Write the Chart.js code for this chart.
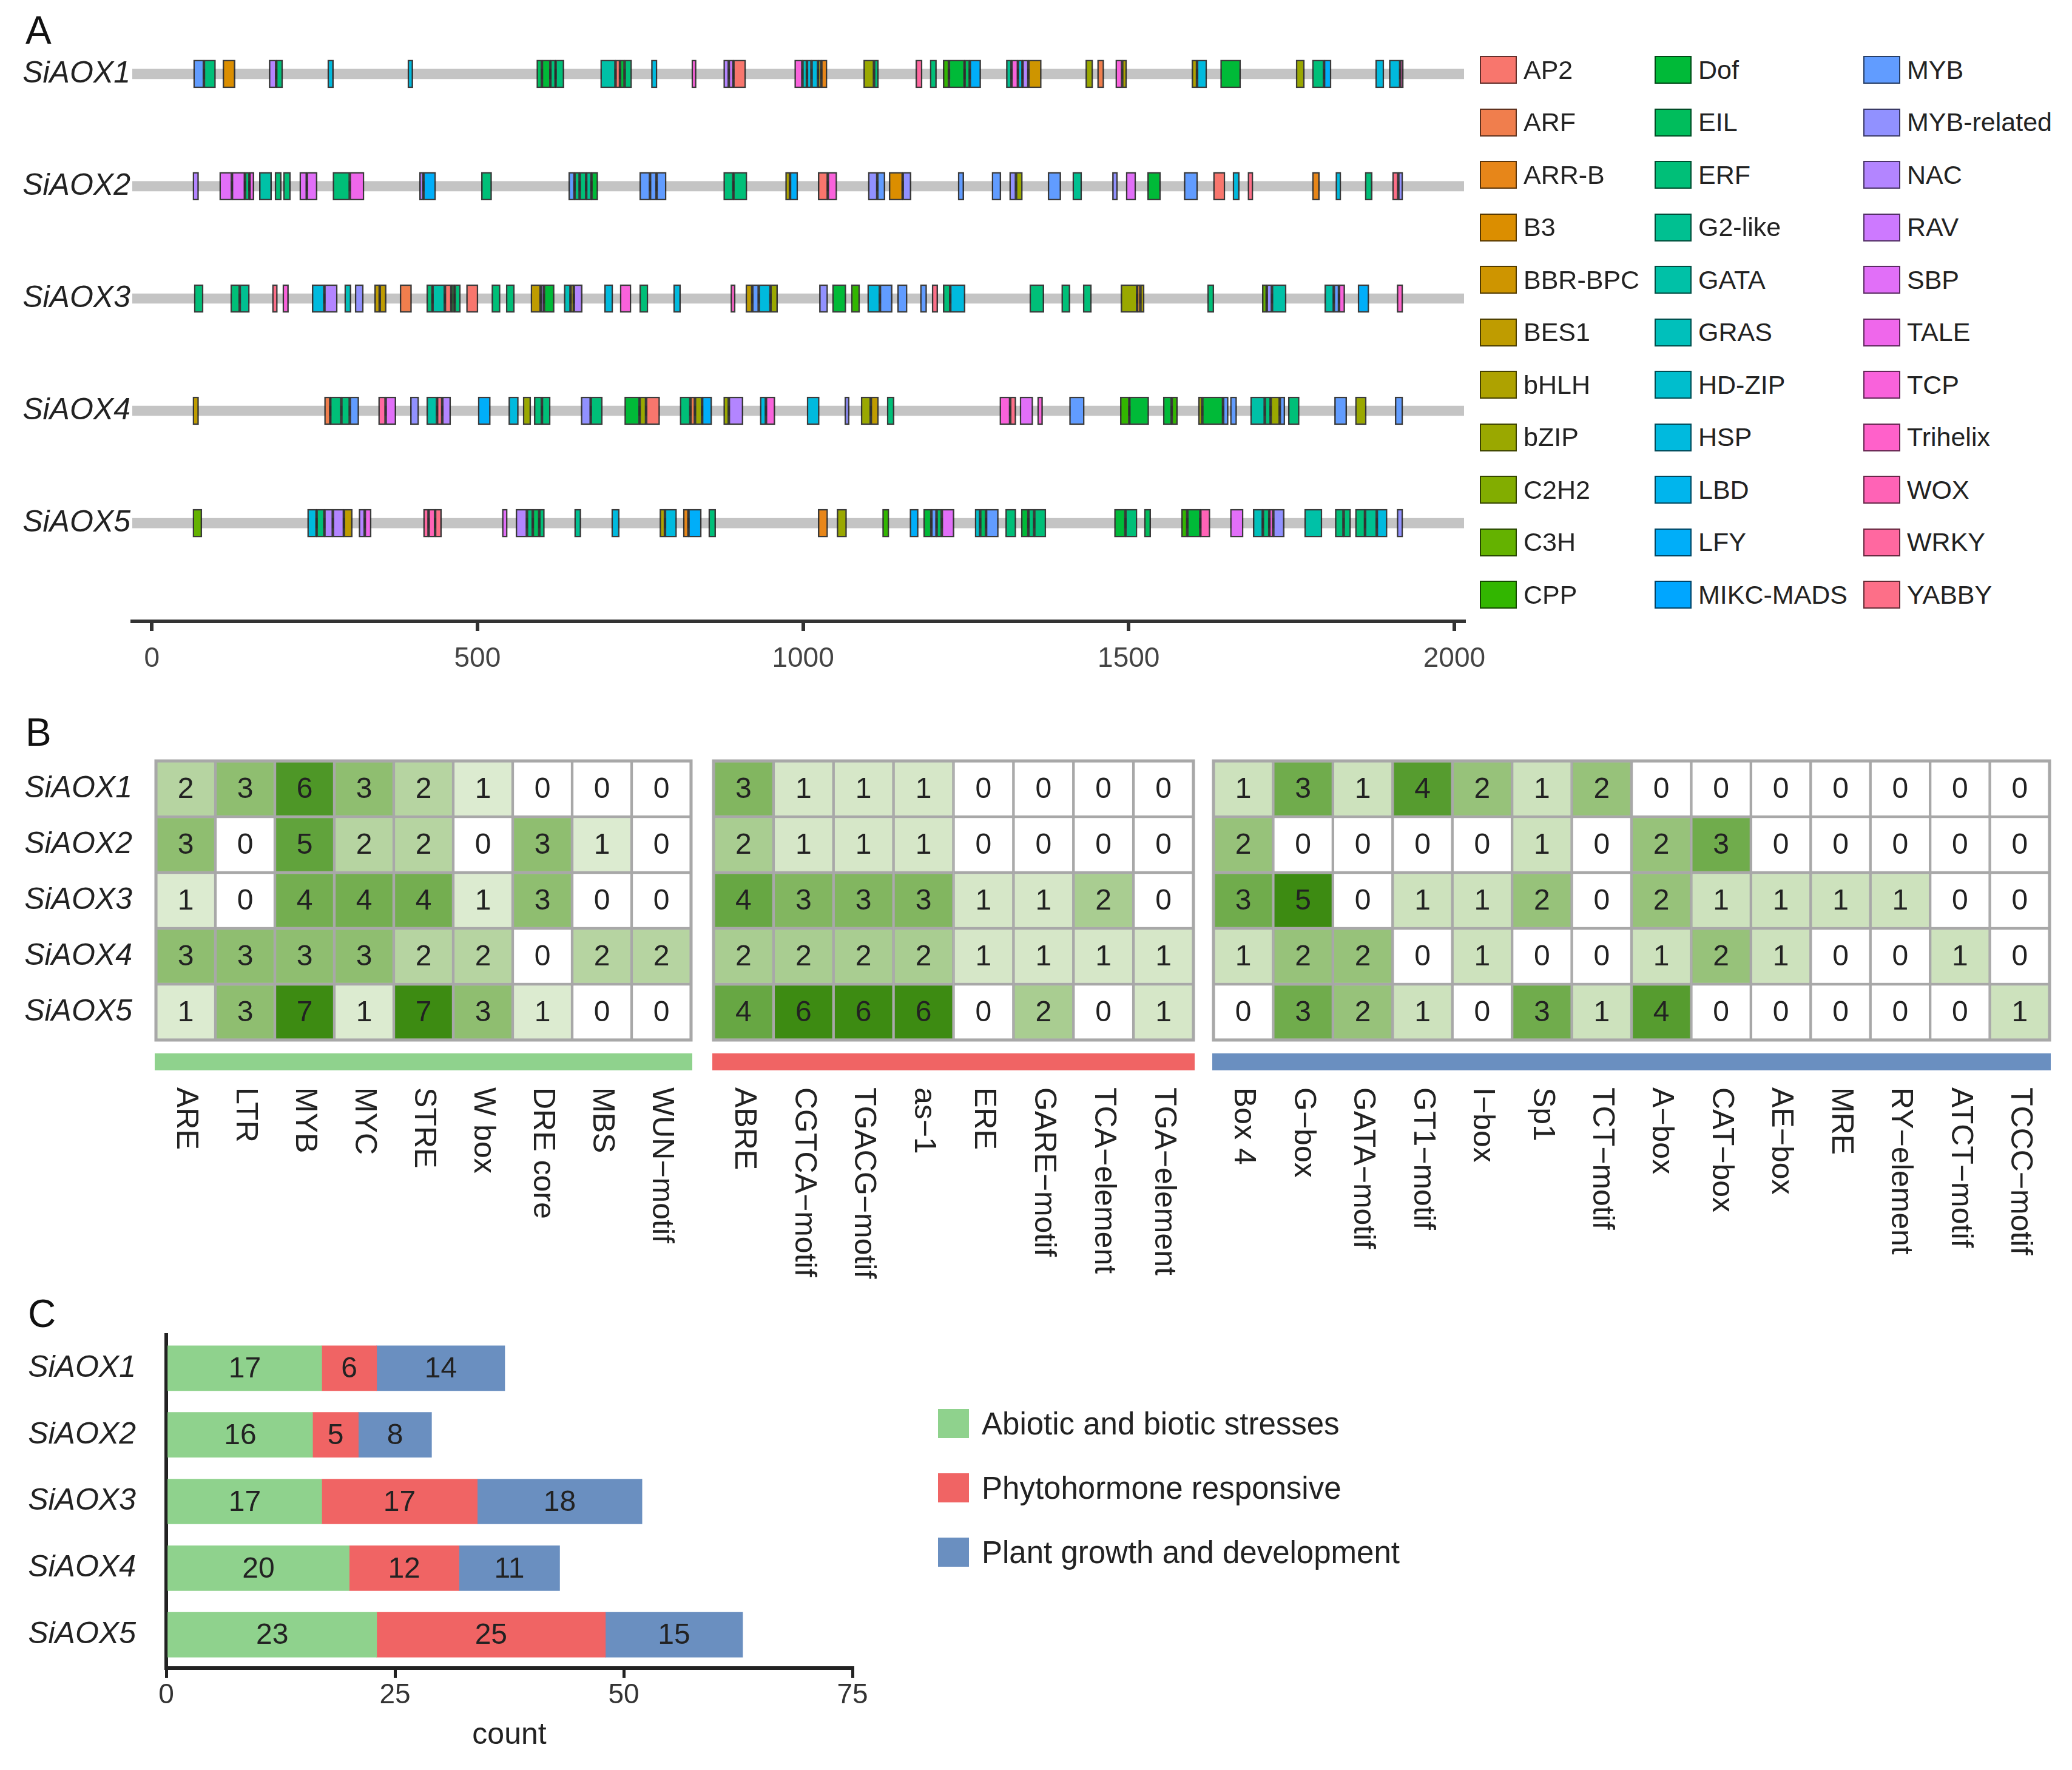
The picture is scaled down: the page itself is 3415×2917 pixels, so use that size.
<!DOCTYPE html>
<html>
<head>
<meta charset="utf-8">
<script src="https://cdn.jsdelivr.net/npm/chart.js@4.4.1/dist/chart.umd.min.js"></script>
<style>
  html, body { margin: 0; padding: 0; background: #fff; }
  #page { position: relative; width: 3415px; height: 2917px; overflow: hidden; background: #fff;
          font-family: "Liberation Sans", Arial, sans-serif; color: #222; }
  canvas { position: absolute; }
  .tag { position: absolute; font-size: 64px; line-height: 64px; color: #111; }
  .leg { position: absolute; display: flex; align-items: center; white-space: nowrap; color: #222; }
  .leg i { display: inline-block; box-sizing: border-box; border: 2px solid rgba(0,0,0,0.6); }
</style>
</head>
<body>
<div id="page">
  <div class="tag" style="left:42px;top:18px">A</div>
  <div class="tag" style="left:42px;top:1175px">B</div>
  <div class="tag" style="left:46px;top:2133px">C</div>
  <canvas id="chartA" width="2480" height="1140" style="left:0;top:0;width:2480px;height:1140px"></canvas>
  <canvas id="heat1" width="1160" height="940" style="left:0;top:1200px;width:1160px;height:940px"></canvas>
  <canvas id="heat2" width="840" height="940" style="left:1150px;top:1200px;width:840px;height:940px"></canvas>
  <canvas id="heat3" width="1420" height="940" style="left:1980px;top:1200px;width:1420px;height:940px"></canvas>
  <canvas id="chartC" width="1470" height="797" style="left:0;top:2120px;width:1470px;height:797px"></canvas>
  <div id="legA"></div>
  <div id="legC"></div>
</div>
<script>
// ---------- data ----------
const genes = ['SiAOX1', 'SiAOX2', 'SiAOX3', 'SiAOX4', 'SiAOX5'];

const families = ['AP2', 'ARF', 'ARR-B', 'B3', 'BBR-BPC', 'BES1', 'bHLH', 'bZIP', 'C2H2', 'C3H', 'CPP',
  'Dof', 'EIL', 'ERF', 'G2-like', 'GATA', 'GRAS', 'HD-ZIP', 'HSP', 'LBD', 'LFY', 'MIKC-MADS',
  'MYB', 'MYB-related', 'NAC', 'RAV', 'SBP', 'TALE', 'TCP', 'Trihelix', 'WOX', 'WRKY', 'YABBY'];

// binding sites: [start, end, family] in bp
const sitesAOX1 = [[64,80,'MYB'],[80,98,'ERF'],[109,128,'B3'],[180,191,'NAC'],[191,201,'ERF'],[270,279,'HSP'],[393,401,'HSP'],
  [591,599,'EIL'],[599,612,'Dof'],[612,620,'ERF'],[620,633,'ERF'],[689,712,'GATA'],[712,719,'AP2'],[719,726,'Dof'],[726,737,'ERF'],
  [767,776,'HSP'],[829,836,'TCP'],[878,886,'NAC'],[886,893,'RAV'],[893,912,'AP2'],
  [987,999,'TCP'],[999,1006,'GRAS'],[1006,1013,'HSP'],[1013,1023,'HSP'],[1023,1028,'bHLH'],[1028,1037,'ARR-B'],
  [1093,1109,'bZIP'],[1109,1116,'ERF'],[1173,1183,'WRKY'],[1195,1205,'ERF'],
  [1215,1224,'CPP'],[1224,1248,'Dof'],[1248,1256,'EIL'],[1256,1273,'LFY'],
  [1312,1320,'G2-like'],[1320,1330,'TCP'],[1330,1337,'HSP'],[1337,1346,'NAC'],[1346,1366,'BBR-BPC'],
  [1434,1445,'bZIP'],[1452,1462,'ARF'],[1480,1490,'TCP'],[1490,1497,'bHLH'],
  [1597,1605,'bHLH'],[1605,1620,'HSP'],[1641,1672,'Dof'],[1757,1770,'bZIP'],[1782,1800,'ERF'],[1800,1811,'LFY'],
  [1879,1892,'HSP'],[1900,1917,'HSP'],[1917,1922,'Trihelix']];
const sitesAOX2 = [[63,72,'NAC'],[104,123,'SBP'],[123,143,'SBP'],[143,150,'ERF'],[150,157,'TALE'],[165,184,'GATA'],[189,199,'ERF'],[202,213,'ERF'],
  [227,238,'SBP'],[238,254,'SBP'],[278,304,'ERF'],[304,326,'TALE'],[411,417,'NAC'],[417,436,'LFY'],[506,522,'ERF'],
  [640,649,'MYB'],[649,657,'ERF'],[657,667,'ERF'],[667,675,'G2-like'],[675,685,'Dof'],
  [749,765,'MYB'],[765,775,'MYB'],[775,790,'MYB'],[878,893,'ERF'],[893,914,'ERF'],[973,980,'bHLH'],[980,992,'LFY'],
  [1023,1038,'AP2'],[1038,1052,'TCP'],[1100,1114,'MYB-related'],[1114,1126,'MYB'],[1132,1153,'B3'],[1153,1166,'MYB-related'],
  [1238,1247,'MYB'],[1290,1304,'MYB'],[1317,1327,'MYB-related'],[1327,1337,'bZIP'],[1376,1396,'MYB'],[1414,1428,'G2-like'],
  [1475,1483,'MYB-related'],[1496,1511,'SBP'],[1529,1549,'Dof'],[1585,1606,'MYB'],[1630,1648,'AP2'],[1660,1670,'HSP'],[1683,1691,'YABBY'],
  [1782,1793,'ARR-B'],[1818,1826,'HSP'],[1863,1874,'ERF'],[1905,1914,'YABBY'],[1914,1921,'MYB-related']];
const sitesAOX3 = [[65,79,'ERF'],[121,135,'ERF'],[135,150,'G2-like'],[185,193,'YABBY'],[201,210,'TCP'],[246,265,'HSP'],[265,285,'NAC'],
  [296,306,'GRAS'],[312,325,'MYB-related'],[342,350,'BES1'],[350,360,'BES1'],[381,399,'ARF'],
  [422,431,'ERF'],[431,450,'GATA'],[450,460,'AP2'],[460,465,'Dof'],[465,474,'ERF'],[483,501,'AP2'],[522,535,'ERF'],[544,557,'ERF'],
  [582,597,'BES1'],[597,602,'NAC'],[602,618,'Dof'],[633,643,'GRAS'],[643,648,'bHLH'],[648,661,'NAC'],
  [695,708,'HSP'],[719,736,'TCP'],[749,762,'ERF'],[801,812,'HSP'],[889,896,'Trihelix'],
  [912,922,'BES1'],[922,932,'MYB'],[932,950,'HSP'],[950,961,'bZIP'],
  [1025,1038,'MYB-related'],[1045,1066,'Dof'],[1074,1087,'CPP'],[1099,1118,'HSP'],[1118,1137,'MYB'],[1145,1160,'MYB'],
  [1180,1190,'MYB'],[1198,1207,'YABBY'],[1215,1226,'ERF'],[1226,1249,'HSP'],
  [1348,1370,'ERF'],[1397,1410,'ERF'],[1430,1443,'ERF'],[1488,1513,'bZIP'],[1513,1518,'ARR-B'],[1518,1524,'bHLH'],
  [1621,1631,'ERF'],[1705,1712,'C3H'],[1712,1720,'MYB-related'],[1720,1742,'GATA'],
  [1801,1815,'GATA'],[1815,1823,'MYB'],[1823,1832,'TCP'],[1852,1869,'LFY'],[1912,1921,'Trihelix']];
const sitesAOX4 = [[63,72,'BES1'],[265,274,'ARF'],[274,291,'ERF'],[291,304,'ERF'],[304,318,'MYB'],[348,359,'WRKY'],[359,375,'SBP'],
  [397,410,'MYB-related'],[422,438,'GATA'],[438,446,'YABBY'],[446,459,'NAC'],[501,520,'LFY'],[548,563,'HSP'],[570,582,'bZIP'],
  [587,599,'ERF'],[599,612,'ERF'],[659,674,'MYB-related'],[674,692,'ERF'],
  [726,749,'Dof'],[749,759,'bZIP'],[759,780,'AP2'],[811,827,'ERF'],[827,834,'ARF'],[834,845,'bZIP'],[845,860,'LFY'],
  [878,886,'bZIP'],[886,908,'NAC'],[934,943,'HSP'],[943,957,'TCP'],
  [1006,1025,'HSP'],[1064,1071,'MYB-related'],[1089,1104,'bZIP'],[1104,1116,'BES1'],[1129,1140,'ERF'],
  [1302,1318,'TCP'],[1318,1327,'YABBY'],[1333,1353,'SBP'],[1360,1368,'TCP'],[1409,1432,'MYB'],
  [1487,1501,'CPP'],[1501,1531,'Dof'],[1553,1566,'Dof'],[1566,1575,'CPP'],
  [1607,1613,'bZIP'],[1613,1645,'Dof'],[1645,1653,'MYB'],[1656,1666,'MYB'],
  [1687,1709,'GATA'],[1709,1718,'ERF'],[1718,1732,'bZIP'],[1732,1740,'MYB'],[1745,1762,'ERF'],
  [1816,1835,'MYB'],[1848,1865,'bZIP'],[1909,1921,'MYB']];
const sitesAOX5 = [[63,77,'C3H'],[239,253,'HSP'],[253,265,'ERF'],[265,278,'NAC'],[278,295,'NAC'],[295,308,'BES1'],[318,327,'NAC'],[327,337,'TALE'],
  [417,425,'WRKY'],[425,435,'WOX'],[435,445,'YABBY'],[538,546,'SBP'],[559,576,'NAC'],[576,585,'ERF'],[585,595,'EIL'],[595,603,'ERF'],
  [649,659,'G2-like'],[706,718,'HSP'],[780,788,'bHLH'],[788,806,'HSP'],[816,824,'ARR-B'],[824,844,'LFY'],[855,866,'ERF'],
  [1023,1038,'ARR-B'],[1052,1067,'bZIP'],[1122,1132,'CPP'],[1164,1177,'LFY'],
  [1185,1197,'Dof'],[1197,1205,'MYB'],[1205,1213,'EIL'],[1213,1232,'SBP'],
  [1264,1272,'HD-ZIP'],[1272,1281,'EIL'],[1281,1300,'MYB'],[1311,1327,'ERF'],[1335,1346,'Dof'],[1346,1355,'ERF'],[1355,1373,'ERF'],
  [1478,1495,'Dof'],[1495,1513,'ERF'],[1524,1534,'EIL'],[1581,1590,'CPP'],[1590,1610,'Dof'],[1610,1625,'WOX'],
  [1656,1676,'SBP'],[1691,1706,'GRAS'],[1706,1716,'ERF'],[1716,1722,'TCP'],[1722,1739,'MYB-related'],
  [1770,1797,'GATA'],[1817,1830,'ERF'],[1830,1841,'ERF'],[1848,1863,'ERF'],[1863,1881,'G2-like'],[1881,1897,'HSP'],[1912,1921,'MYB-related']];
const geneSites = [sitesAOX1, sitesAOX2, sitesAOX3, sitesAOX4, sitesAOX5];
const trackSpan = [-30, 2015];
const ticksA = [0, 500, 1000, 1500, 2000];

const motifsStress = ['ARE', 'LTR', 'MYB', 'MYC', 'STRE', 'W box', 'DRE core', 'MBS', 'WUN\u2212motif'];
const heatStress = [
  [2, 3, 6, 3, 2, 1, 0, 0, 0],
  [3, 0, 5, 2, 2, 0, 3, 1, 0],
  [1, 0, 4, 4, 4, 1, 3, 0, 0],
  [3, 3, 3, 3, 2, 2, 0, 2, 2],
  [1, 3, 7, 1, 7, 3, 1, 0, 0]];
const motifsHormone = ['ABRE', 'CGTCA\u2212motif', 'TGACG\u2212motif', 'as\u22121', 'ERE', 'GARE\u2212motif', 'TCA\u2212element', 'TGA\u2212element'];
const heatHormone = [
  [3, 1, 1, 1, 0, 0, 0, 0],
  [2, 1, 1, 1, 0, 0, 0, 0],
  [4, 3, 3, 3, 1, 1, 2, 0],
  [2, 2, 2, 2, 1, 1, 1, 1],
  [4, 6, 6, 6, 0, 2, 0, 1]];
const motifsGrowth = ['Box 4', 'G\u2212box', 'GATA\u2212motif', 'GT1\u2212motif', 'I\u2212box', 'Sp1', 'TCT\u2212motif', 'A\u2212box',
  'CAT\u2212box', 'AE\u2212box', 'MRE', 'RY\u2212element', 'ATCT\u2212motif', 'TCCC\u2212motif'];
const heatGrowth = [
  [1, 3, 1, 4, 2, 1, 2, 0, 0, 0, 0, 0, 0, 0],
  [2, 0, 0, 0, 0, 1, 0, 2, 3, 0, 0, 0, 0, 0],
  [3, 5, 0, 1, 1, 2, 0, 2, 1, 1, 1, 1, 0, 0],
  [1, 2, 2, 0, 1, 0, 0, 1, 2, 1, 0, 0, 1, 0],
  [0, 3, 2, 1, 0, 3, 1, 4, 0, 0, 0, 0, 0, 1]];

const groups = ['Abiotic and biotic stresses', 'Phytohormone responsive', 'Plant growth and development'];
const countStress = [17, 16, 17, 20, 23];
const countHormone = [6, 5, 17, 12, 25];
const countGrowth = [14, 8, 18, 11, 15];
const ticksC = [0, 25, 50, 75];

// ---------- styles ----------
const FONT = '"Liberation Sans", Arial, sans-serif';
Chart.defaults.font.family = FONT;
const groupColors = ['#8FD28D', '#F06464', '#6A8FC0'];
const heatStops = ['#FFFFFF', '#DCEBD0', '#B6D4A1', '#8FBE70', '#74AE50', '#61A33C', '#4E9727', '#3D8B12'];

// ggplot-like hue palette
function hcl(h, c, l) {
  const WX = 95.047, WY = 100, WZ = 108.883;
  const un = 4 * WX / (WX + 15 * WY + 3 * WZ), vn = 9 * WY / (WX + 15 * WY + 3 * WZ);
  const hr = h * Math.PI / 180;
  const Y = WY * (l > 7.999592 ? Math.pow((l + 16) / 116, 3) : l / 903.3);
  const u = c * Math.cos(hr) / (13 * l) + un, v = c * Math.sin(hr) / (13 * l) + vn;
  const X = 9 * Y * u / (4 * v);
  const Z = -X / 3 - 5 * Y + 3 * Y / v;
  const lin = [3.240479 * X - 1.537150 * Y - 0.498535 * Z,
               -0.969256 * X + 1.875992 * Y + 0.041556 * Z,
               0.055648 * X - 0.204043 * Y + 1.057311 * Z].map(t => t / WY);
  return '#' + lin.map(t => {
    t = t > 0.00304 ? 1.055 * Math.pow(t, 1 / 2.4) - 0.055 : 12.92 * t;
    t = Math.min(1, Math.max(0, t));
    return Math.round(t * 255).toString(16).padStart(2, '0');
  }).join('');
}
const famColor = {};
families.forEach((f, i) => { famColor[f] = hcl(15 + i * 360 / families.length, 100, 65); });

function mix(a, b, t) {
  const pa = [1, 3, 5].map(k => parseInt(a.substr(k, 2), 16));
  const pb = [1, 3, 5].map(k => parseInt(b.substr(k, 2), 16));
  return 'rgb(' + pa.map((x, k) => Math.round(x + (pb[k] - x) * t)).join(',') + ')';
}
function heatColor(v, maxV) {
  const p = v / maxV * (heatStops.length - 1);
  const k = Math.min(heatStops.length - 2, Math.floor(p));
  return mix(heatStops[k], heatStops[k + 1], p - k);
}
// keep vertical axes from pushing the plot area down
function noPad(s) { s.paddingTop = 0; s.paddingBottom = 0; }

// ---------- panel A ----------
const datasetsA = families.map(f => ({
  label: f,
  data: geneSites.flatMap((sites, gi) => sites.filter(s => s[2] === f)
    .map(s => ({ x: [s[0], s[1]], y: genes.length - gi }))),
  backgroundColor: famColor[f],
  borderColor: 'rgba(25,25,25,0.85)',
  borderWidth: 2.5,
  borderSkipped: false,
  barThickness: 46,
  grouped: false,
  order: 1
}));
datasetsA.push({
  label: 'track',
  data: genes.map((g, gi) => ({ x: trackSpan, y: genes.length - gi })),
  backgroundColor: '#C4C4C4',
  borderWidth: 0,
  barThickness: 16,
  grouped: false,
  order: 2
});

new Chart(document.getElementById('chartA'), {
  type: 'bar',
  data: { datasets: datasetsA },
  options: {
    indexAxis: 'y',
    responsive: false,
    animation: false,
    devicePixelRatio: 1,
    layout: { autoPadding: false, padding: { top: 9, right: 67, left: 0, bottom: 0 } },
    plugins: { legend: { display: false }, tooltip: { enabled: false } },
    scales: {
      x: {
        type: 'linear', min: trackSpan[0], max: trackSpan[1], offset: false,
        afterBuildTicks: s => { s.ticks = ticksA.map(v => ({ value: v })); },
        afterFit: s => { s.height = 116; s.paddingLeft = 0; s.paddingRight = 0; },
        grid: { drawOnChartArea: false, tickLength: 16, lineWidth: 6, color: '#333' },
        border: { width: 6, color: '#333' },
        ticks: { callback: v => String(v), font: { size: 46 }, color: '#444', padding: 19 }
      },
      y: {
        type: 'linear', min: 0.125, max: 5.61, offset: false,
        afterBuildTicks: s => { s.ticks = genes.map((g, gi) => ({ value: genes.length - gi })); },
        afterFit: s => { s.width = 218; noPad(s); },
        grid: { display: false, drawTicks: false, offset: false },
        border: { display: false },
        ticks: { callback: v => genes[genes.length - v], font: { size: 50, style: 'italic' }, color: '#222', padding: 3 }
      }
    }
  }
});

// legend A (three columns of eleven)
const legA = document.getElementById('legA');
const legColLeft = [2439, 2727, 3071];
families.forEach((f, i) => {
  const col = Math.floor(i / 11), row = i % 11;
  const d = document.createElement('div');
  d.className = 'leg';
  d.style.cssText = `left:${legColLeft[col]}px;top:${115 + row * 86.5 - 30}px;height:60px;font-size:43px;`;
  d.innerHTML = `<i style="width:61px;height:46px;background:${famColor[f]}"></i><span style="margin-left:11px">${f}</span>`;
  legA.appendChild(d);
});

// ---------- panel B ----------
const heatPlugin = {
  id: 'heatDeco',
  afterDatasetsDraw(chart, args, opts) {
    const ctx = chart.ctx, a = chart.chartArea, xs = chart.scales.x;
    ctx.save();
    ctx.font = '48px ' + FONT;
    ctx.fillStyle = '#222';
    ctx.textAlign = 'center';
    ctx.textBaseline = 'middle';
    chart.data.datasets.forEach((d, di) => {
      chart.getDatasetMeta(di).data.forEach((el, i) => {
        ctx.fillText(String(d.cellValues[i]), el.x, (el.y + el.base) / 2 + 2);
      });
    });
    ctx.lineWidth = 5;
    ctx.strokeStyle = '#A8A8A8';
    ctx.strokeRect(a.left, a.top, a.right - a.left, a.bottom - a.top);
    ctx.fillStyle = opts.band;
    ctx.fillRect(a.left - 2, a.bottom + 22, a.right - a.left + 4, 28);
    ctx.font = '50px ' + FONT;
    ctx.fillStyle = '#222';
    ctx.textAlign = 'left';
    chart.data.labels.forEach((lab, i) => {
      ctx.save();
      ctx.translate(xs.getPixelForValue(i), a.bottom + 78);
      ctx.rotate(Math.PI / 2);
      ctx.fillText(lab, 0, 0);
      ctx.restore();
    });
    ctx.restore();
  }
};

function makeHeat(id, motifs, values, band, showGenes, padL, padR) {
  const maxV = Math.max(...values.flat());
  new Chart(document.getElementById(id), {
    type: 'bar',
    data: {
      labels: motifs,
      datasets: values.map((row, gi) => ({
        label: genes[gi],
        data: row.map(() => [genes.length - 1 - gi, genes.length - gi]),
        cellValues: row,
        backgroundColor: row.map(v => heatColor(v, maxV)),
        borderColor: '#A8A8A8',
        borderWidth: 2.5,
        borderSkipped: false,
        categoryPercentage: 1,
        barPercentage: 1,
        grouped: false
      }))
    },
    plugins: [heatPlugin],
    options: {
      responsive: false,
      animation: false,
      devicePixelRatio: 1,
      layout: { autoPadding: false, padding: { top: 54, bottom: 426, left: padL, right: padR } },
      plugins: { legend: { display: false }, tooltip: { enabled: false }, heatDeco: { band: band } },
      scales: {
        x: { type: 'category', display: false },
        y: {
          type: 'linear', min: 0, max: genes.length, display: showGenes,
          afterBuildTicks: s => { s.ticks = genes.map((g, gi) => ({ value: genes.length - gi - 0.5 })); },
          afterFit: s => { s.width = showGenes ? 257 : 0; noPad(s); },
          grid: { display: false, drawTicks: false },
          border: { display: false },
          ticks: { callback: v => genes[Math.round(genes.length - 0.5 - v)], font: { size: 50, style: 'italic' }, color: '#222', padding: 39 }
        }
      }
    }
  });
}
makeHeat('heat1', motifsStress, heatStress, groupColors[0], true, 0, 21);
makeHeat('heat2', motifsHormone, heatHormone, groupColors[1], false, 26, 23);
makeHeat('heat3', motifsGrowth, heatGrowth, groupColors[2], false, 20, 22);

// ---------- panel C ----------
const barText = {
  id: 'barText',
  afterDatasetsDraw(chart) {
    const ctx = chart.ctx;
    ctx.save();
    ctx.font = '48px ' + FONT;
    ctx.fillStyle = '#222';
    ctx.textAlign = 'center';
    ctx.textBaseline = 'middle';
    chart.data.datasets.forEach((d, di) => {
      chart.getDatasetMeta(di).data.forEach((el, i) => {
        ctx.fillText(String(d.data[i]), (el.x + el.base) / 2, el.y + 2);
      });
    });
    ctx.restore();
  }
};

new Chart(document.getElementById('chartC'), {
  type: 'bar',
  data: {
    labels: genes,
    datasets: [countStress, countHormone, countGrowth].map((vals, k) => ({
      label: groups[k],
      data: vals,
      backgroundColor: groupColors[k],
      borderWidth: 0,
      barThickness: 74
    }))
  },
  plugins: [barText],
  options: {
    indexAxis: 'y',
    responsive: false,
    animation: false,
    devicePixelRatio: 1,
    layout: { padding: { top: 65, right: 65, left: 0, bottom: 0 } },
    plugins: { legend: { display: false }, tooltip: { enabled: false } },
    scales: {
      x: {
        type: 'linear', stacked: true, min: 0, max: 75,
        afterBuildTicks: s => { s.ticks = ticksC.map(v => ({ value: v })); },
        afterFit: s => { s.height = 168; },
        grid: { drawOnChartArea: false, tickLength: 16, lineWidth: 5, color: '#222' },
        border: { width: 6, color: '#222' },
        ticks: { font: { size: 46 }, color: '#333', padding: 2 },
        title: { display: true, text: 'count', font: { size: 50 }, color: '#222', padding: { top: 0, bottom: 27 } }
      },
      y: {
        type: 'category', stacked: true,
        afterFit: s => { s.width = 274; },
        grid: { display: false, drawTicks: false },
        border: { width: 6, color: '#222' },
        ticks: { font: { size: 50, style: 'italic' }, color: '#222', padding: 50 }
      }
    }
  }
});

// legend C
const legC = document.getElementById('legC');
groups.forEach((g, k) => {
  const d = document.createElement('div');
  d.className = 'leg';
  d.style.cssText = `left:1546px;top:${2346 + k * 106 - 32}px;height:64px;font-size:51px;`;
  d.innerHTML = `<i style="width:51px;height:48px;background:${groupColors[k]};border:none"></i><span style="margin-left:21px">${g}</span>`;
  legC.appendChild(d);
});
</script>
</body>
</html>
